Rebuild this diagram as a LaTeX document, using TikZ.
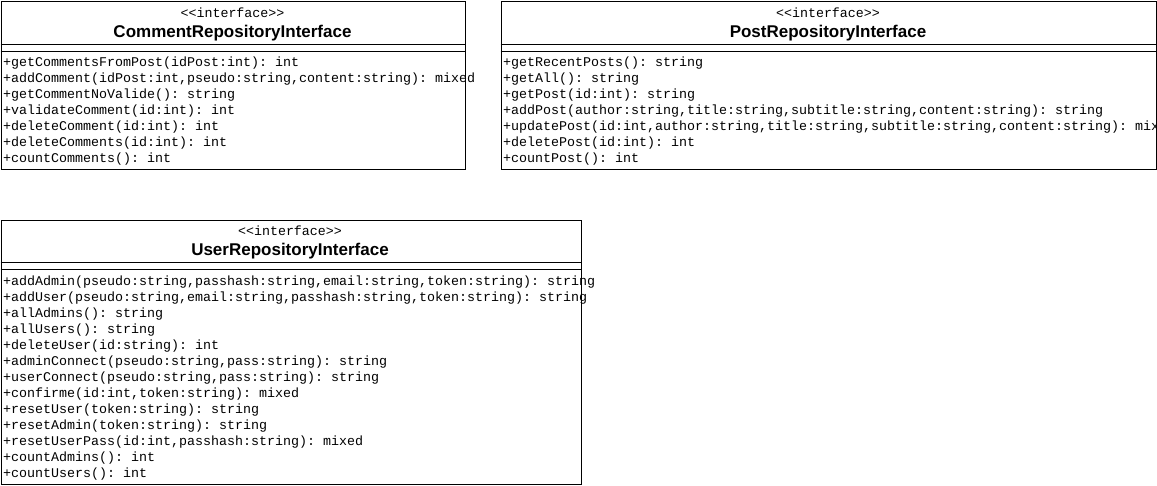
\documentclass[tikz,border=0pt]{standalone}
\usepackage{fontspec}
\setmainfont{Liberation Sans}
\setmonofont{Liberation Mono}
\begin{document}
\begin{tikzpicture}[x=1pt,y=-1pt,
  box/.style={draw=black,line width=1pt,rectangle,inner sep=0pt,anchor=north west},
  stereo/.style={font=\ttfamily\fontsize{13.3}{15}\selectfont,inner sep=0pt,anchor=base},
  cname/.style={font=\bfseries\fontsize{17}{19}\selectfont,inner sep=0pt,anchor=base},
  member/.style={font=\ttfamily\fontsize{13.33}{16}\selectfont,inner sep=0pt,anchor=base west},
  sep/.style={line width=1pt}]
\useasboundingbox (0,0) rectangle (1157,485);
% Comment box
\node[box,minimum width=464pt,minimum height=168pt] (cbox) at (0.5,0.5) {};
\node[stereo] (cst) at (232.5,17) {<<interface>>};
\node[cname] (cnm) at (232.5,37) {CommentRepositoryInterface};
\draw[sep] ([yshift=-44pt]cbox.north west) -- ([yshift=-44pt]cbox.north east);
\draw[sep] ([yshift=-51pt]cbox.north west) -- ([yshift=-51pt]cbox.north east);
\foreach \t [count=\i] in {{+getCommentsFromPost(idPost:int): int},{+addComment(idPost:int,pseudo:string,content:string): mixed},{+getCommentNoValide(): string},{+validateComment(id:int): int},{+deleteComment(id:int): int},{+deleteComments(id:int): int},{+countComments(): int}}
  \node[member] (cm\i) at (3,{66+16*(\i-1)}) {\t};
% Post box
\node[box,minimum width=655pt,minimum height=168pt] (pbox) at (500.5,0.5) {};
\node[stereo] (pst) at (828,17) {<<interface>>};
\node[cname] (pnm) at (828,37) {PostRepositoryInterface};
\draw[sep] ([yshift=-44pt]pbox.north west) -- ([yshift=-44pt]pbox.north east);
\draw[sep] ([yshift=-51pt]pbox.north west) -- ([yshift=-51pt]pbox.north east);
\foreach \t [count=\i] in {{+getRecentPosts(): string},{+getAll(): string},{+getPost(id:int): string},{+addPost(author:string,title:string,subtitle:string,content:string): string},{+updatePost(id:int,author:string,title:string,subtitle:string,content:string): mixed},{+deletePost(id:int): int},{+countPost(): int}}
  \node[member] (pm\i) at (503,{66+16*(\i-1)}) {\t};
% User box
\node[box,minimum width=580pt,minimum height=264pt] (ubox) at (0.5,219.5) {};
\node[stereo] (ust) at (290,235) {<<interface>>};
\node[cname] (unm) at (290,255) {UserRepositoryInterface};
\draw[sep] ([yshift=-43pt]ubox.north west) -- ([yshift=-43pt]ubox.north east);
\draw[sep] ([yshift=-50pt]ubox.north west) -- ([yshift=-50pt]ubox.north east);
\foreach \t [count=\i] in {{+addAdmin(pseudo:string,passhash:string,email:string,token:string): string},{+addUser(pseudo:string,email:string,passhash:string,token:string): string},{+allAdmins(): string},{+allUsers(): string},{+deleteUser(id:string): int},{+adminConnect(pseudo:string,pass:string): string},{+userConnect(pseudo:string,pass:string): string},{+confirme(id:int,token:string): mixed},{+resetUser(token:string): string},{+resetAdmin(token:string): string},{+resetUserPass(id:int,passhash:string): mixed},{+countAdmins(): int},{+countUsers(): int}}
  \node[member] (um\i) at (3,{285+16*(\i-1)}) {\t};
\end{tikzpicture}
\end{document}
